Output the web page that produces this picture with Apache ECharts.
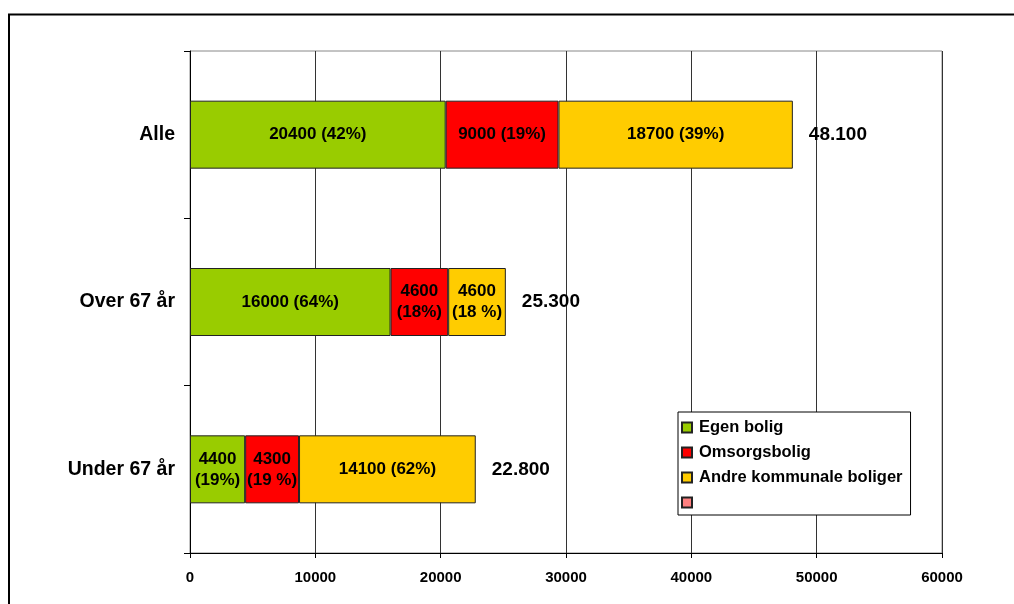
<!DOCTYPE html>
<html>
<head>
<meta charset="utf-8">
<script src="https://cdn.jsdelivr.net/npm/echarts@6/dist/echarts.min.js"></script>
<style>
  html, body { margin: 0; padding: 0; background: #fff; }
  #chart { width: 1014px; height: 604px; }
</style>
</head>
<body>
<div id="chart"></div>
<script>
// Housing situation by age group (stacked horizontal bars)
const categories = ['Alle', 'Over 67 år', 'Under 67 år'];
const seriesNames = ['Egen bolig', 'Omsorgsbolig', 'Andre kommunale boliger', ' '];
const egenBolig = [20400, 16000, 4400];
const omsorgsbolig = [9000, 4600, 4300];
const andreKommunale = [18700, 4600, 14100];
const egenLabels = ['20400 (42%)', '16000 (64%)', '4400\n(19%)'];
const omsorgLabels = ['9000 (19%)', '4600\n(18%)', '4300\n(19 %)'];
const andreLabels = ['18700 (39%)', '4600\n(18 %)', '14100 (62%)'];
const totals = [48100, 25300, 22800];
const xTicks = { min: 0, max: 60000, interval: 10000 };

const colors = ['#99CC00', '#FF0000', '#FFCC00', '#FF8080'];
const FONT = '"Liberation Sans", Arial, sans-serif';

function fmtTotal(v) {
  return String(v).replace(/\B(?=(\d{3})+(?!\d))/g, '.');
}

function barSeries(name, data, labels, color) {
  return {
    name: name,
    type: 'bar',
    stack: 'sum',
    barWidth: 68,
    data: data,
    itemStyle: { color: color, borderColor: '#222', borderWidth: 1 },
    label: {
      show: true,
      position: 'inside',
      color: '#000',
      fontFamily: FONT,
      fontWeight: 'bold',
      fontSize: 17,
      lineHeight: 21,
      formatter: p => labels[p.dataIndex]
    },
    emphasis: { disabled: true }
  };
}

const chart = echarts.init(document.getElementById('chart'), null, { renderer: 'canvas' });

chart.setOption({
  animation: false,
  backgroundColor: '#fff',
  graphic: [{
    type: 'rect',
    shape: { x: 9, y: 14.5, width: 1020, height: 620 },
    style: { fill: 'none', stroke: '#000', lineWidth: 2 },
    silent: true
  }],
  grid: {
    left: 190, right: 72, top: 51, bottom: 51,
    show: true, borderColor: '#888', borderWidth: 1,
    containLabel: false
  },
  legend: {
    orient: 'vertical',
    left: 678, top: 412,
    data: seriesNames,
    icon: 'rect',
    itemWidth: 10, itemHeight: 10,
    itemGap: 8,
    padding: [7, 8, 4, 3],
    backgroundColor: '#fff',
    borderColor: '#000',
    borderWidth: 1,
    textStyle: { fontFamily: FONT, fontWeight: 'bold', fontSize: 16.5, color: '#000', padding: [0, 0, 0, 2] },
    selectedMode: false
  },
  xAxis: {
    type: 'value',
    min: xTicks.min, max: xTicks.max, interval: xTicks.interval,
    axisLine: { show: true, lineStyle: { color: '#000', width: 1 } },
    axisTick: { show: true, length: 5, lineStyle: { color: '#000' } },
    axisLabel: {
      fontFamily: FONT, fontWeight: 'bold', fontSize: 15, color: '#000', margin: 17,
      formatter: v => String(v)
    },
    splitLine: { show: true, lineStyle: { color: '#333', width: 1 } }
  },
  yAxis: {
    type: 'category',
    data: categories,
    inverse: true,
    axisLine: { show: true, lineStyle: { color: '#000', width: 1 } },
    axisTick: { show: true, length: 6, lineStyle: { color: '#000' } },
    axisLabel: { fontFamily: FONT, fontWeight: 'bold', fontSize: 19.5, color: '#000', margin: 15 },
    splitLine: { show: false }
  },
  series: [
    barSeries(seriesNames[0], egenBolig, egenLabels, colors[0]),
    barSeries(seriesNames[1], omsorgsbolig, omsorgLabels, colors[1]),
    barSeries(seriesNames[2], andreKommunale, andreLabels, colors[2]),
    {
      name: seriesNames[3],
      type: 'bar',
      stack: 'sum',
      data: [],
      itemStyle: { color: colors[3], borderColor: '#222', borderWidth: 1 }
    },
    {
      name: 'Sum',
      type: 'bar',
      stack: 'sum',
      barWidth: 68,
      data: totals.map(() => 0),
      itemStyle: { color: 'transparent', borderWidth: 0 },
      label: {
        show: true,
        position: 'right',
        distance: 16,
        color: '#000',
        fontFamily: FONT,
        fontWeight: 'bold',
        fontSize: 19,
        formatter: p => fmtTotal(totals[p.dataIndex])
      },
      emphasis: { disabled: true }
    }
  ]
});
</script>
</body>
</html>
